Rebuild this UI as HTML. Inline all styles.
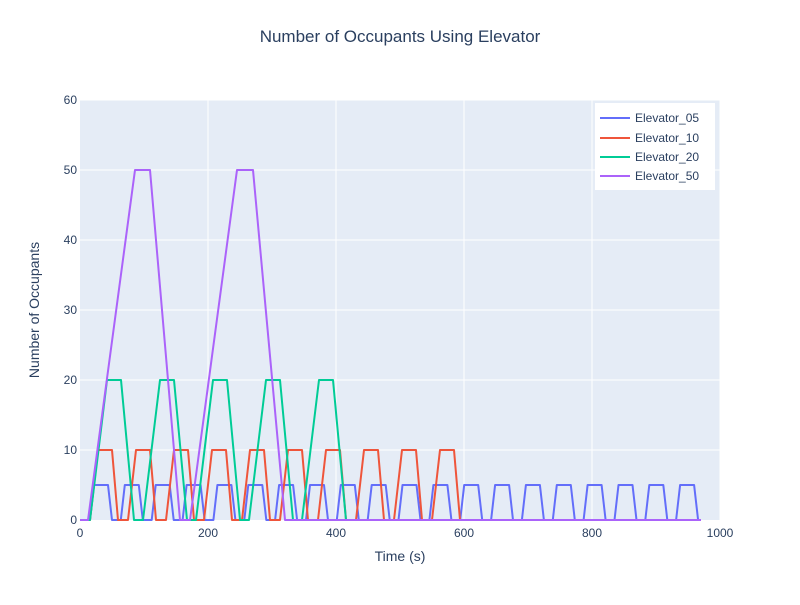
<!DOCTYPE html>
<html><head><meta charset="utf-8"><style>
body{margin:0;background:#fff;}
svg{font-family:"Liberation Sans","Open Sans",sans-serif;}
</style></head><body>
<svg id="s" width="800" height="600" xmlns="http://www.w3.org/2000/svg">
<rect x="0" y="0" width="800" height="600" fill="#fff"/>
<rect x="80" y="100" width="640" height="420" fill="#e5ecf6"/>
<g stroke="#fff" stroke-width="1">
<line x1="80" x2="720" y1="450" y2="450"/><line x1="80" x2="720" y1="380" y2="380"/>
<line x1="80" x2="720" y1="310" y2="310"/><line x1="80" x2="720" y1="240" y2="240"/>
<line x1="80" x2="720" y1="170" y2="170"/><line x1="80" x2="720" y1="100" y2="100"/>
<line x1="208" x2="208" y1="100" y2="520"/><line x1="336" x2="336" y1="100" y2="520"/>
<line x1="464" x2="464" y1="100" y2="520"/><line x1="592" x2="592" y1="100" y2="520"/>
<line x1="720" x2="720" y1="100" y2="520"/>
</g>
<g id="series" fill="none" stroke-width="2" stroke-linejoin="round"></g>
<g font-size="12" fill="#2a3f5f" text-anchor="end">
<text x="77" y="524">0</text><text x="77" y="454">10</text><text x="77" y="384">20</text>
<text x="77" y="314">30</text><text x="77" y="244">40</text><text x="77" y="174">50</text><text x="77" y="104">60</text>
</g>
<g font-size="12" fill="#2a3f5f" text-anchor="middle">
<text x="80" y="537">0</text><text x="208" y="537">200</text><text x="336" y="537">400</text>
<text x="464" y="537">600</text><text x="592" y="537">800</text><text x="720" y="537">1000</text>
</g>
<text x="400" y="42" font-size="17" fill="#2a3f5f" text-anchor="middle">Number of Occupants Using Elevator</text>
<text x="400" y="561" font-size="14" fill="#2a3f5f" text-anchor="middle">Time (s)</text>
<text transform="translate(39,310) rotate(-90)" font-size="14" fill="#2a3f5f" text-anchor="middle">Number of Occupants</text>
<rect x="595.5" y="103.5" width="119" height="86" fill="#fff" stroke="#fff"/>
<g stroke-width="2">
<line x1="600" x2="630" y1="118" y2="118" stroke="#636efa"/>
<line x1="600" x2="630" y1="138" y2="138" stroke="#ef553b"/>
<line x1="600" x2="630" y1="157" y2="157" stroke="#00cc96"/>
<line x1="600" x2="630" y1="176" y2="176" stroke="#ab63fa"/>
</g>
<g font-size="12" fill="#2a3f5f">
<text x="635" y="122">Elevator_05</text><text x="635" y="142">Elevator_10</text>
<text x="635" y="161">Elevator_20</text><text x="635" y="180">Elevator_50</text>
</g>
</svg>
<script>
function trains(start,n,period,rise,top,fall,yTop,end){
  var p=[[80,520],[start,520]];
  for(var i=0;i<n;i++){var r=start+i*period;
    p.push([r,520],[r+rise,yTop],[r+rise+top,yTop],[r+rise+top+fall,520]);}
  p.push([end,520]);
  return p.map(function(a){return a[0].toFixed(1)+","+a[1];}).join(" ");
}
var g=document.getElementById("series");
function add(pts,c){var e=document.createElementNS("http://www.w3.org/2000/svg","polyline");
 e.setAttribute("points",pts);e.setAttribute("stroke",c);g.appendChild(e);}
add(trains(90,20,30.85,4,14,4,485,701),"#636efa");
add(trains(90,10,38,8,14,6,450,701),"#ef553b");
add(trains(90,5,53,17,14,13,380,701),"#00cc96");
add("80,520 88,520 135,170 150,170 180,520 190,520 237,170 253,170 285,520 701,520","#ab63fa");
</script>
</body></html>
